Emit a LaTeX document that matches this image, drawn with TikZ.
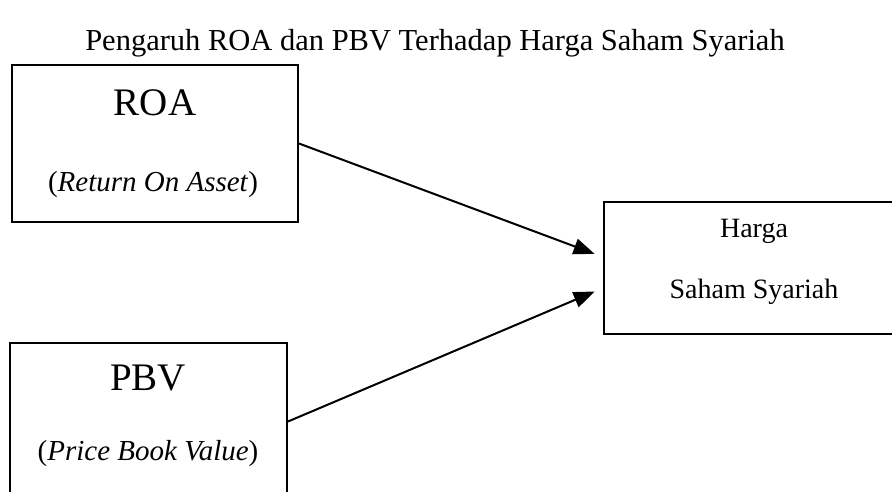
\documentclass[tikz,border=0pt]{standalone}
\usepackage{fontspec}
\setmainfont{Liberation Serif}
\usetikzlibrary{arrows.meta,positioning}

\tikzset{
  varbox/.style={draw,line width=2pt,inner sep=0pt},
  big/.style={font=\fontsize{39}{44}\selectfont,anchor=base},
  small/.style={font=\fontsize{29}{34}\selectfont,anchor=base},
  pengaruh/.style={line width=2pt,-{Triangle[length=21pt,width=16pt]},shorten >=9pt}
}

\begin{document}
\begin{tikzpicture}[x=1pt,y=-1pt]
    \useasboundingbox (0,0) rectangle (892,491);
    % judul
    \node[small,font=\fontsize{30.5}{35}\selectfont] (judul) at (435,50) {Pengaruh ROA dan PBV Terhadap Harga Saham Syariah};
    % kotak variabel
    \node[varbox,minimum width=286pt,minimum height=157pt] (roa) at (155,143.5) {};
    \node[varbox,minimum width=277pt,minimum height=157pt] (pbv) at (148.5,421.5) {};
    \node[varbox,minimum width=300pt,minimum height=132pt] (harga) at (754,268) {};
    % isi kotak
    \node[big] (roatxt) at (155,115) {ROA};
    \node[small] (roaket) at (153,191) {(\textit{Return On Asset})};
    \node[big] (pbvtxt) at (148,390) {PBV};
    \node[small] (pbvket) at (148,460) {(\textit{Price Book Value})};
    \node[small,font=\fontsize{28}{33}\selectfont] (hargatxt) at (754,237) {Harga};
    \node[small,font=\fontsize{28}{33}\selectfont] (sahamtxt) at (754,298) {Saham Syariah};
    % panah
    \draw[pengaruh] (roa.east) -- ([yshift=11pt]harga.west);
    \draw[pengaruh] (pbv.east) -- ([yshift=-20pt]harga.west);
\end{tikzpicture}
\end{document}
